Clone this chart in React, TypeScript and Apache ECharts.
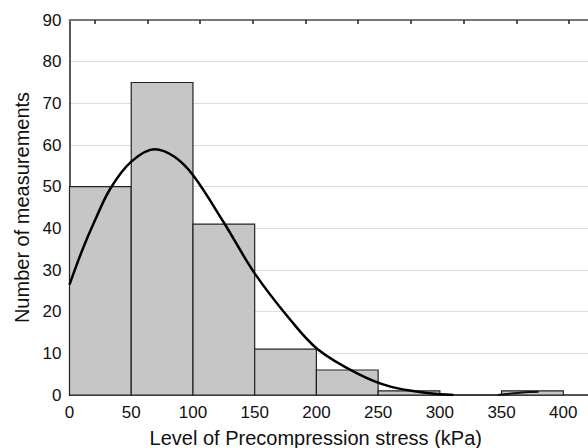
import React, { useEffect, useRef } from "react";
import * as echarts from "echarts";

// Histogram bins: [from, to, count]
const binStarts = [0, 50, 100, 150, 200, 250, 300, 350];
const binEnds = [50, 100, 150, 200, 250, 300, 350, 400];
const binCounts = [50, 75, 41, 11, 6, 1, 0, 1];

// Fitted curve
const curveX = [0, 10, 20, 33, 50, 69, 85, 100, 125, 150, 179, 201, 233, 260, 292, 311];
const curveY = [26.5, 34.5, 41.5, 49.5, 56, 59, 57.2, 52.8, 41.4, 29.2, 18, 11, 5.2, 2, 0.4, 0];

// Small curve fragment near 350-380
const fragX = [347, 360, 372, 380];
const fragY = [0, 0.4, 0.7, 0.8];

const xTicks = [0, 50, 100, 150, 200, 250, 300, 350, 400];
const topTicks = [20.7, 63.6, 105.7, 148.6, 191.5, 233.6, 276.6, 319.5, 362.5, 404.6];

const FONT = "Liberation Sans, Arial, sans-serif";

export default function App() {
  const ref = useRef<HTMLDivElement>(null);
  useEffect(() => {
    if (!ref.current) return;
    const chart = echarts.init(ref.current, null, { renderer: "svg" });
    const bins = binStarts.map((s, i) => [s, binEnds[i], binCounts[i]]);
    chart.setOption({
      animation: false,
      grid: { left: 69.5, top: 20, right: 0, bottom: 53, containLabel: false, outerBoundsMode: "none" },
      xAxis: [
        {
          type: "value",
          min: 0,
          max: 420,
          interval: 50,
          name: "Level of Precompression stress (kPa)",
          nameLocation: "middle",
          nameGap: 33,
          nameTextStyle: { fontFamily: FONT, fontSize: 20, color: "#111", padding: [0, 26, 0, 0] },
          axisLine: { lineStyle: { color: "#222", width: 1.5 } },
          axisTick: { show: false },
          axisLabel: {
            fontFamily: FONT,
            fontSize: 17,
            color: "#111",
            margin: 9,
            customValues: xTicks,
            formatter: (v: number) => (v > 400 ? "" : String(v)),
          },
          splitLine: { show: false },
        },
        {
          type: "value",
          position: "top",
          min: 0,
          max: 420,
          axisLine: { show: true, lineStyle: { color: "#777", width: 2 } },
          axisTick: { show: true, inside: true, length: 4, customValues: topTicks, lineStyle: { color: "#222", width: 1.5 } },
          axisLabel: { show: false },
          splitLine: { show: false },
        },
      ],
      yAxis: {
        type: "value",
        min: 0,
        max: 90,
        interval: 10,
        name: "Number of measurements",
        nameLocation: "middle",
        nameGap: 37,
        nameTextStyle: { fontFamily: FONT, fontSize: 20, color: "#111" },
        axisLine: { show: true, lineStyle: { color: "#222", width: 1.5 } },
        axisTick: { show: false },
        axisLabel: { fontFamily: FONT, fontSize: 17, color: "#111", margin: 8 },
        splitLine: { show: true, lineStyle: { color: "#dcdcdc", width: 1 } },
      },
      series: [
        {
          type: "custom",
          data: bins,
          renderItem: (params: any, api: any) => {
            const p0 = api.coord([api.value(0), api.value(2)]);
            const p1 = api.coord([api.value(1), 0]);
            return {
              type: "rect",
              shape: { x: p0[0], y: p0[1], width: p1[0] - p0[0], height: p1[1] - p0[1] },
              style: { fill: "#c6c6c6", stroke: "#222", lineWidth: 1.2 },
            };
          },
          z: 2,
        },
        {
          type: "line",
          data: curveX.map((x, i) => [x, curveY[i]]),
          smooth: 0.35,
          showSymbol: false,
          lineStyle: { color: "#000", width: 2.5 },
          z: 3,
        },
        {
          type: "line",
          data: fragX.map((x, i) => [x, fragY[i]]),
          smooth: 0.4,
          showSymbol: false,
          lineStyle: { color: "#111", width: 2 },
          z: 3,
        },
      ],
    });
    return () => chart.dispose();
  }, []);
  return <div ref={ref} style={{ width: 588, height: 448, position: "absolute", left: 0, top: 0 }} />;
}
